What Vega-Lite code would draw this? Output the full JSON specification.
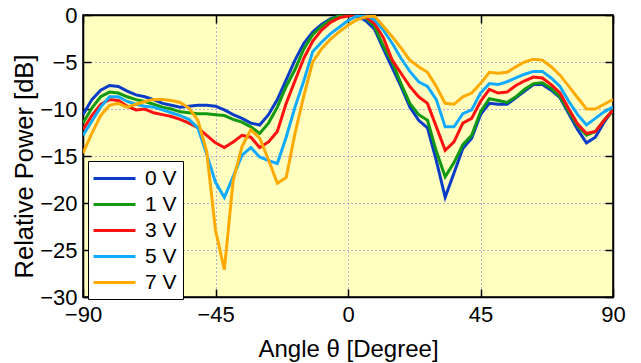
{
  "$schema": "https://vega.github.io/schema/vega-lite/v6.json",
  "autosize": {"type": "none"},
  "width": 530,
  "height": 282,
  "padding": {"left": 83, "top": 15, "right": 28, "bottom": 66},
  "background": "white",
  "config": {
    "view": {"fill": "#ffffc0", "stroke": "black", "strokeWidth": 1.5},
    "font": "Liberation Sans",
    "axis": {
      "domainColor": "black",
      "domainWidth": 1.5,
      "tickColor": "black",
      "tickWidth": 1.5,
      "tickSize": -8,
      "labelFontSize": 22,
      "labelColor": "black",
      "labelFlush": false,
      "titleFontSize": 24,
      "titleFontWeight": "normal",
      "titleColor": "black",
      "gridColor": "#6666dd",
      "gridDash": [1, 3],
      "gridWidth": 1,
      "gridOpacity": 1
    },
    "legend": {
      "orient": "none",
      "legendX": 5,
      "legendY": 146,
      "strokeColor": "black",
      "fillColor": "white",
      "padding": 6,
      "symbolType": "M-2.1,0H2.1",
      "symbolSize": 400,
      "symbolOffset": 9,
      "symbolStrokeWidth": 3,
      "labelFontSize": 21,
      "labelColor": "black",
      "rowPadding": 4,
      "labelOffset": 19,
      "title": null
    }
  },
  "data": {
    "values": [
      {"a": -90, "0 V": -10.6, "1 V": -11.5, "3 V": -12.2, "5 V": -12.8, "7 V": -14.7},
      {"a": -87, "0 V": -9.0, "1 V": -9.9, "3 V": -10.7, "5 V": -11.3, "7 V": -12.6},
      {"a": -84, "0 V": -8.0, "1 V": -8.7, "3 V": -9.5, "5 V": -9.8, "7 V": -10.7},
      {"a": -81, "0 V": -7.5, "1 V": -8.2, "3 V": -9.0, "5 V": -8.7, "7 V": -9.6},
      {"a": -78, "0 V": -7.6, "1 V": -8.3, "3 V": -9.1, "5 V": -8.7, "7 V": -9.4},
      {"a": -75, "0 V": -8.1, "1 V": -8.7, "3 V": -9.7, "5 V": -9.2, "7 V": -9.8},
      {"a": -72, "0 V": -8.5, "1 V": -9.0, "3 V": -10.1, "5 V": -9.5, "7 V": -9.5},
      {"a": -69, "0 V": -8.7, "1 V": -9.2, "3 V": -10.0, "5 V": -9.7, "7 V": -9.2},
      {"a": -66, "0 V": -9.0, "1 V": -9.5, "3 V": -10.4, "5 V": -9.8, "7 V": -9.0},
      {"a": -63, "0 V": -9.4, "1 V": -9.8, "3 V": -10.6, "5 V": -10.1, "7 V": -9.0},
      {"a": -60, "0 V": -9.6, "1 V": -10.0, "3 V": -10.8, "5 V": -10.4, "7 V": -9.1},
      {"a": -57, "0 V": -9.8, "1 V": -10.3, "3 V": -11.1, "5 V": -10.7, "7 V": -9.3},
      {"a": -54, "0 V": -9.7, "1 V": -10.4, "3 V": -11.5, "5 V": -11.1, "7 V": -9.9},
      {"a": -51, "0 V": -9.6, "1 V": -10.5, "3 V": -12.0, "5 V": -12.0, "7 V": -11.2},
      {"a": -48, "0 V": -9.6, "1 V": -10.5, "3 V": -12.8, "5 V": -14.8, "7 V": -14.5},
      {"a": -45, "0 V": -9.7, "1 V": -10.6, "3 V": -13.6, "5 V": -17.8, "7 V": -22.9},
      {"a": -42, "0 V": -10.1, "1 V": -10.7, "3 V": -14.1, "5 V": -19.4, "7 V": -27.1},
      {"a": -39, "0 V": -10.6, "1 V": -11.1, "3 V": -13.5, "5 V": -17.2, "7 V": -17.6},
      {"a": -36, "0 V": -11.0, "1 V": -11.4, "3 V": -12.8, "5 V": -14.9, "7 V": -14.0},
      {"a": -33, "0 V": -11.5, "1 V": -11.9, "3 V": -13.0, "5 V": -14.1, "7 V": -12.2},
      {"a": -30, "0 V": -11.7, "1 V": -12.6, "3 V": -14.1, "5 V": -15.1, "7 V": -13.1},
      {"a": -27, "0 V": -10.6, "1 V": -11.5, "3 V": -13.5, "5 V": -15.5, "7 V": -15.4},
      {"a": -24, "0 V": -9.0, "1 V": -9.8, "3 V": -12.4, "5 V": -15.8, "7 V": -17.9},
      {"a": -21, "0 V": -6.9, "1 V": -7.6, "3 V": -9.4, "5 V": -13.0, "7 V": -17.3},
      {"a": -18, "0 V": -4.8, "1 V": -5.8, "3 V": -7.0, "5 V": -9.8, "7 V": -12.6},
      {"a": -15, "0 V": -3.0, "1 V": -3.6, "3 V": -4.6, "5 V": -7.0, "7 V": -8.6},
      {"a": -12, "0 V": -1.8, "1 V": -2.1, "3 V": -2.8, "5 V": -3.9, "7 V": -5.0},
      {"a": -9, "0 V": -1.0, "1 V": -1.2, "3 V": -1.6, "5 V": -2.9, "7 V": -3.6},
      {"a": -6, "0 V": -0.4, "1 V": -0.5, "3 V": -0.8, "5 V": -2.0, "7 V": -2.6},
      {"a": -3, "0 V": -0.1, "1 V": -0.1, "3 V": -0.3, "5 V": -1.3, "7 V": -1.8},
      {"a": 0, "0 V": 0, "1 V": 0, "3 V": -0.1, "5 V": -0.6, "7 V": -1.1},
      {"a": 3, "0 V": -0.1, "1 V": 0, "3 V": 0, "5 V": -0.1, "7 V": -0.5},
      {"a": 6, "0 V": -0.6, "1 V": -0.3, "3 V": -0.2, "5 V": 0, "7 V": -0.2},
      {"a": 9, "0 V": -1.5, "1 V": -1.2, "3 V": -0.9, "5 V": -0.5, "7 V": -0.1},
      {"a": 12, "0 V": -3.6, "1 V": -3.3, "3 V": -2.4, "5 V": -1.6, "7 V": -1.2},
      {"a": 15, "0 V": -5.6, "1 V": -5.0, "3 V": -4.8, "5 V": -3.0, "7 V": -2.3},
      {"a": 18, "0 V": -7.6, "1 V": -7.3, "3 V": -6.2, "5 V": -4.6, "7 V": -3.5},
      {"a": 21, "0 V": -9.8, "1 V": -9.4, "3 V": -7.6, "5 V": -6.0, "7 V": -4.8},
      {"a": 24, "0 V": -11.2, "1 V": -10.6, "3 V": -8.7, "5 V": -7.1, "7 V": -5.5},
      {"a": 27, "0 V": -12.0, "1 V": -11.2, "3 V": -9.4, "5 V": -7.6, "7 V": -6.1},
      {"a": 30, "0 V": -15.5, "1 V": -14.5, "3 V": -11.9, "5 V": -9.0, "7 V": -7.6},
      {"a": 33, "0 V": -19.4, "1 V": -17.2, "3 V": -14.4, "5 V": -11.9, "7 V": -9.4},
      {"a": 36, "0 V": -16.8, "1 V": -15.7, "3 V": -13.5, "5 V": -11.9, "7 V": -9.5},
      {"a": 39, "0 V": -14.2, "1 V": -13.8, "3 V": -11.5, "5 V": -10.5, "7 V": -8.7},
      {"a": 42, "0 V": -13.1, "1 V": -12.8, "3 V": -11.0, "5 V": -10.1, "7 V": -8.3},
      {"a": 45, "0 V": -10.6, "1 V": -10.3, "3 V": -9.2, "5 V": -8.3, "7 V": -7.3},
      {"a": 48, "0 V": -9.4, "1 V": -8.9, "3 V": -7.9, "5 V": -7.3, "7 V": -6.1},
      {"a": 51, "0 V": -9.5, "1 V": -9.1, "3 V": -8.3, "5 V": -7.4, "7 V": -6.2},
      {"a": 54, "0 V": -9.5, "1 V": -9.3, "3 V": -8.2, "5 V": -7.1, "7 V": -6.1},
      {"a": 57, "0 V": -8.8, "1 V": -8.7, "3 V": -7.5, "5 V": -6.7, "7 V": -5.5},
      {"a": 60, "0 V": -8.1, "1 V": -7.9, "3 V": -7.0, "5 V": -6.3, "7 V": -5.0},
      {"a": 63, "0 V": -7.4, "1 V": -7.3, "3 V": -6.6, "5 V": -6.0, "7 V": -4.7},
      {"a": 66, "0 V": -7.4, "1 V": -7.2, "3 V": -6.7, "5 V": -6.0, "7 V": -4.8},
      {"a": 69, "0 V": -8.0, "1 V": -7.8, "3 V": -7.4, "5 V": -6.7, "7 V": -5.5},
      {"a": 72, "0 V": -8.8, "1 V": -8.7, "3 V": -8.3, "5 V": -7.6, "7 V": -6.4},
      {"a": 75, "0 V": -10.5, "1 V": -10.3, "3 V": -10.0, "5 V": -9.2, "7 V": -7.6},
      {"a": 78, "0 V": -12.2, "1 V": -11.8, "3 V": -11.6, "5 V": -10.6, "7 V": -8.8},
      {"a": 81, "0 V": -13.6, "1 V": -12.8, "3 V": -12.6, "5 V": -11.7, "7 V": -10.0},
      {"a": 84, "0 V": -13.0, "1 V": -12.4, "3 V": -12.4, "5 V": -11.0, "7 V": -10.0},
      {"a": 87, "0 V": -11.4, "1 V": -11.2, "3 V": -11.2, "5 V": -10.3, "7 V": -9.5},
      {"a": 90, "0 V": -10.1, "1 V": -10.1, "3 V": -10.1, "5 V": -9.8, "7 V": -9.0}
    ]
  },
  "transform": [
    {"fold": ["0 V", "1 V", "3 V", "5 V", "7 V"], "as": ["s", "p"]}
  ],
  "resolve": {"axis": {"x": "independent", "y": "independent"}},
  "layer": [
    {
      "mark": {"type": "line", "strokeWidth": 3, "clip": true},
      "encoding": {
        "x": {
          "field": "a", "type": "quantitative",
          "scale": {"domain": [-90, 90], "nice": false, "zero": false},
          "axis": {"values": [-90, -45, 0, 45, 90], "title": "Angle θ [Degree]", "labelPadding": 15, "titleBaseline": "alphabetic", "titleY": 59, "grid": true}
        },
        "y": {
          "field": "p", "type": "quantitative",
          "scale": {"domain": [-30, 0], "nice": false, "zero": false},
          "axis": {"values": [-30, -25, -20, -15, -10, -5, 0], "title": "Relative Power [dB]", "titleFontSize": 25.5, "labelPadding": 14, "titleX": -46, "titleY": 151, "grid": true}
        },
        "color": {
          "field": "s", "type": "nominal",
          "scale": {"domain": ["0 V", "1 V", "3 V", "5 V", "7 V"], "range": ["#0a3cc8", "#119911", "#ff1111", "#11aaff", "#ffaa00"]}
        }
      }
    },
    {
      "mark": {"type": "line", "opacity": 0},
      "encoding": {
        "x": {"field": "a", "type": "quantitative", "axis": {"orient": "top", "values": [-90, -45, 0, 45, 90], "labels": false, "title": null, "grid": false}},
        "y": {"field": "p", "type": "quantitative", "axis": {"orient": "right", "values": [-30, -25, -20, -15, -10, -5, 0], "labels": false, "title": null, "grid": false}},
        "detail": {"field": "s", "type": "nominal"}
      }
    }
  ]
}
